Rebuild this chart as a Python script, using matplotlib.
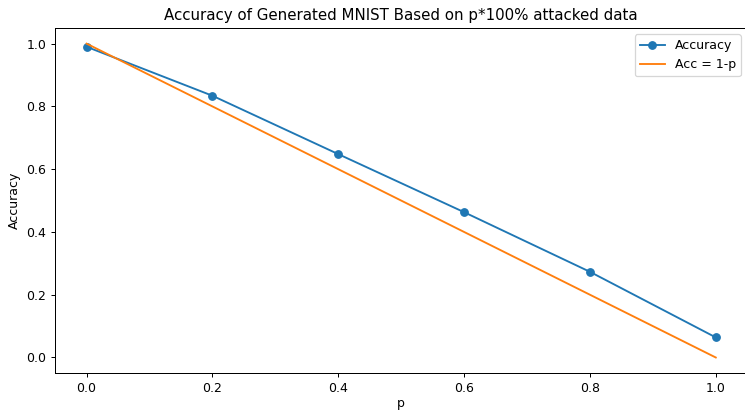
import matplotlib.pyplot as plt
import numpy as np

p_values = [0.0, 0.2, 0.4, 0.6, 0.8, 1.0]
accuracy = [0.990, 0.834, 0.648, 0.463, 0.273, 0.064]

fig, ax = plt.subplots(figsize=(745 / 90, 411 / 90), dpi=90)
ax.plot(p_values, accuracy, marker="o", label="Accuracy")
ax.plot(p_values, 1 - np.array(p_values), label="Acc = 1-p")

ax.set_xlabel("p", labelpad=2)
ax.set_ylabel("Accuracy")
ax.set_title("Accuracy of Generated MNIST Based on p*100% attacked data")
ax.legend()

fig.subplots_adjust(left=0.074, right=1.003, top=0.932, bottom=0.092)
fig.savefig("out.png")
